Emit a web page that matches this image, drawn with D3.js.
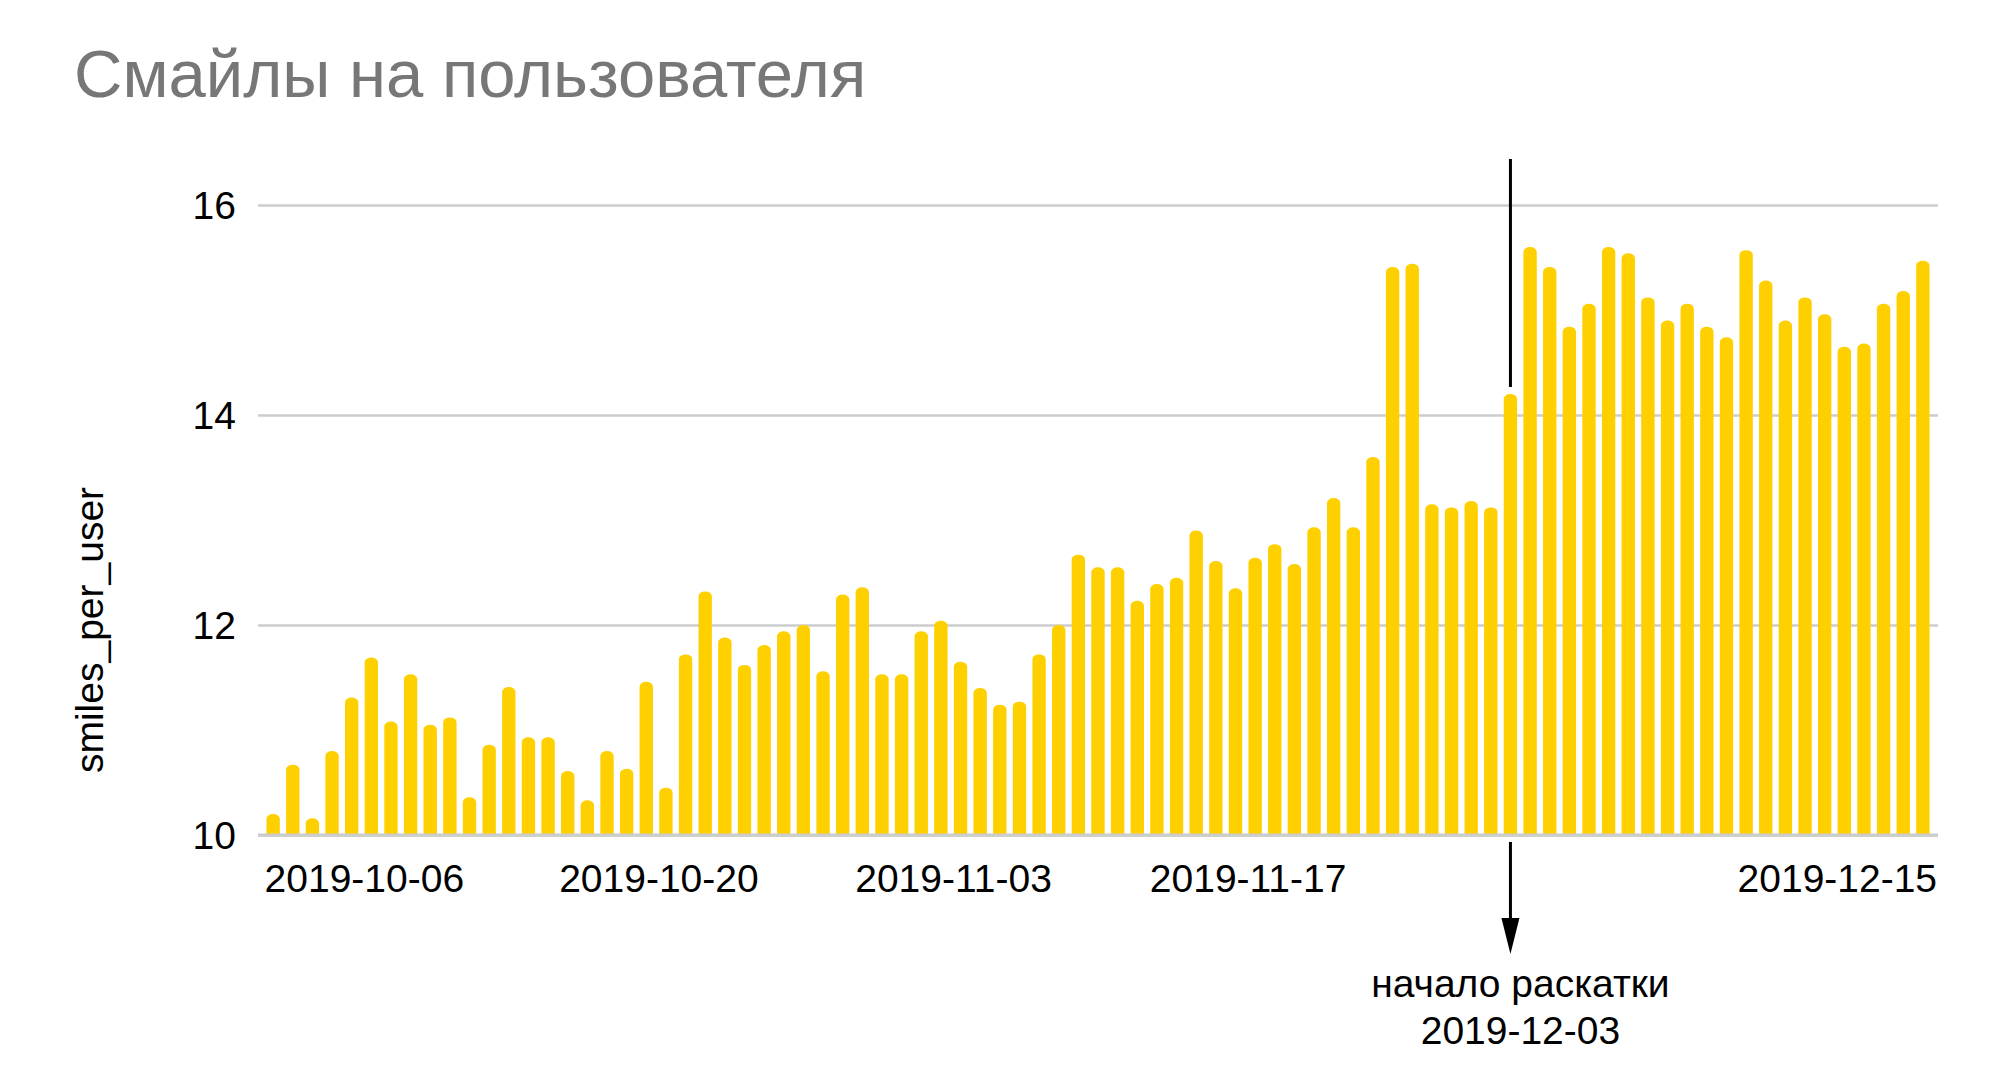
<!DOCTYPE html>
<meta charset="utf-8">
<style>

body {
    margin: 0;
    background: #fff;
}

.chart {
    font-family: "Liberation Sans", Arial, sans-serif;
}

.title {
    fill: #777777;
    font-size: 67px;
}

.axis text {
    fill: #000;
    font-size: 39px;
}

.axis--y .tick line {
    stroke: #cccccc;
    stroke-width: 2.5px;
}

.axis .domain,
.axis--x .tick line {
    display: none;
}

.bar {
    fill: #fed000;
}

.note {
    fill: #000;
    font-size: 39px;
}

</style>
<svg class="chart" width="2000" height="1076"></svg>
<script src="https://d3js.org/d3.v7.min.js"></script>
<script>

// daily values, 2019-10-01 .. 2019-12-24
var startDay = new Date(2019, 9, 1),
    endDay = new Date(2019, 11, 25);

var smiles = [
    10.20, 10.67, 10.16, 10.80, 11.31, 11.69, 11.08, 11.53, 11.05, 11.12,
    10.36, 10.86, 11.41, 10.93, 10.93, 10.61, 10.33, 10.80, 10.63, 11.46,
    10.45, 11.72, 12.32, 11.88, 11.62, 11.81, 11.94, 12.00, 11.56, 12.29,
    12.36, 11.53, 11.53, 11.94, 12.04, 11.65, 11.40, 11.24, 11.27, 11.72,
    12.00, 12.67, 12.55, 12.55, 12.23, 12.39, 12.45, 12.90, 12.61, 12.35,
    12.64, 12.77, 12.58, 12.93, 13.21, 12.93, 13.60, 15.41, 15.44, 13.15,
    13.12, 13.18, 13.12, 14.20, 15.60, 15.41, 14.84, 15.06, 15.60, 15.54,
    15.12, 14.90, 15.06, 14.84, 14.74, 15.57, 15.28, 14.90, 15.12, 14.96,
    14.65, 14.68, 15.06, 15.18, 15.47
];

// x labels as they sit in the original (every 15th bar)
var tickLabels = ["2019-10-06", "2019-10-20", "2019-11-03", "2019-11-17", "2019-12-15"],
    tickBars = [5, 20, 35, 50, 80];

var yTicks = [10, 12, 14, 16];

var rolloutDate = "2019-12-03",
    rolloutText = ["начало раскатки", "2019-12-03"];

var fmt = d3.timeFormat("%Y-%m-%d");
var days = d3.timeDay.range(startDay, endDay).map(fmt);

var data = smiles.map(function(v, i) { return {date: days[i], value: v}; });

var svg = d3.select("svg"),
    margin = {top: 205, right: 62, bottom: 241, left: 258},
    width = +svg.attr("width") - margin.left - margin.right,
    height = +svg.attr("height") - margin.top - margin.bottom;

var x = d3.scaleBand()
    .domain(days)
    .range([0, width])
    .paddingInner(0.32)
    .paddingOuter(0.43);

var y = d3.scaleLinear()
    .domain([10, 16])
    .range([height, 0]);

svg.append("text")
    .attr("class", "title")
    .attr("x", 74)
    .attr("y", 97)
    .text("Смайлы на пользователя");

var g = svg.append("g")
    .attr("transform", "translate(" + margin.left + "," + margin.top + ")");

g.append("g")
    .attr("class", "axis axis--y")
    .call(d3.axisLeft(y)
        .tickValues(yTicks)
        .tickFormat(d3.format("d"))
        .tickSize(-width)
        .tickPadding(22))
    .call(function(a) { a.selectAll(".tick text").attr("dy", "0.35em"); });

svg.append("text")
    .attr("class", "note")
    .attr("transform", "rotate(-90)")
    .attr("x", -630)
    .attr("y", 103)
    .style("text-anchor", "middle")
    .text("smiles_per_user");

var bw = x.bandwidth(), ry = 5;

g.selectAll(".bar")
    .data(data)
    .enter().append("path")
    .attr("class", "bar")
    .attr("d", function(d) {
        var x0 = x(d.date), t = y(d.value), b = y(10);
        return "M" + x0 + "," + b + "V" + (t + ry) +
            "A" + (bw / 2) + "," + ry + " 0 0 1 " + (x0 + bw) + "," + (t + ry) +
            "V" + b + "Z";
    });

// baseline over the bars
g.append("line")
    .attr("x1", 0)
    .attr("x2", width)
    .attr("y1", y(10))
    .attr("y2", y(10))
    .style("stroke", "#cccccc")
    .style("stroke-width", 3);

g.append("g")
    .attr("class", "axis axis--x")
    .attr("transform", "translate(0," + height + ")")
    .call(d3.axisBottom(x)
        .tickValues(tickBars.map(function(i) { return days[i]; }))
        .tickFormat(function(d, i) { return tickLabels[i]; })
        .tickSize(0)
        .tickPadding(29))
    .call(function(a) { a.selectAll(".tick text").attr("dx", -7); });

// rollout marker
var rollout = data.filter(function(d) { return d.date == rolloutDate; })[0],
    mx = x(rollout.date) + bw / 2;

g.append("line")
    .attr("x1", mx).attr("x2", mx)
    .attr("y1", -46)
    .attr("y2", y(rollout.value) - 7)
    .style("stroke", "#000")
    .style("stroke-width", 3);

g.append("line")
    .attr("x1", mx).attr("x2", mx)
    .attr("y1", height + 7)
    .attr("y2", height + 90)
    .style("stroke", "#000")
    .style("stroke-width", 3);

g.append("path")
    .attr("d", "M" + (mx - 9) + "," + (height + 83) + "L" + (mx + 9) + "," + (height + 83) +
        "L" + mx + "," + (height + 119) + "Z")
    .style("fill", "#000");

g.append("text")
    .attr("class", "note")
    .attr("x", mx + 10)
    .attr("y", height + 162)
    .style("text-anchor", "middle")
    .selectAll("tspan")
    .data(rolloutText)
    .enter().append("tspan")
    .attr("x", mx + 10)
    .attr("dy", function(d, i) { return i ? 47 : 0; })
    .text(function(d) { return d; });

</script>
